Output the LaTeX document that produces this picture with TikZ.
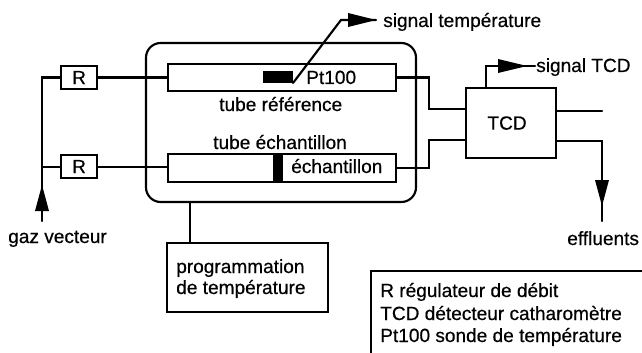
\documentclass[tikz,border=0pt]{standalone}
\usepackage{fontspec}
\setmainfont{Liberation Sans}[RawFeature={embolden=0.5}]
\tikzset{
  x=0.75pt,y=-0.75pt,
  wire/.style={line width=1.6pt,line cap=round,line join=miter},
  boxn/.style={draw,line width=1.6pt,inner sep=0pt,anchor=north west,rectangle},
  lab/.style={font=\fontsize{14.3pt}{16pt}\selectfont,inner sep=0pt,text=black},
  txt/.style={lab,anchor=base west},
  head/.style={fill=black,draw=none},
}
\begin{document}
\begin{tikzpicture}
\useasboundingbox (0,0) rectangle (642,353);
\fill[white] (0,0) rectangle (642,353);
% outer enclosure
\draw[wire,rounded corners=11pt] (146,43) rectangle (416,202);
% boxes
\node[boxn,minimum width=171pt,minimum height=20.25pt] (reft) at (167,63) {};
\node[boxn,minimum width=171pt,minimum height=21pt] (samt) at (167,153) {};
\node[boxn,minimum width=27pt,minimum height=17.25pt] (r1) at (60,65) {};
\node[boxn,minimum width=27pt,minimum height=17.25pt] (r2) at (60,154) {};
\node[boxn,minimum width=67.5pt,minimum height=52.5pt] (tcd) at (465,87) {};
\node[boxn,minimum width=120.75pt,minimum height=51.75pt] (prog) at (166,242) {};
% box labels
\node[lab] at (r1.center) {R};
\node[lab] at (r2.center) {R};
\node[lab] at ([xshift=-3pt]tcd.center) {TCD};
% black elements
\fill (263,71) rectangle (293,83);
\fill (273,153) rectangle (283,181);
\coordinate (sens) at (293,83);
\coordinate (sbend) at (341,20);
\coordinate (stip) at (376,20);
\draw[wire] (sens) -- (sbend) -- (stip);
\fill[head] (348,13) -- (376,20) -- (348,27) -- cycle;
% gas input
\coordinate (gtail) at (42,221);
\draw[wire] (gtail) -- (gtail |- r1.west) -- (r1.west);
\draw[wire] (gtail |- r2.west) -- (r2.west);
\fill[head] (35,211) -- (42,185) -- (49,211) -- cycle;
\draw[wire] (r1.east) -- (r1.east -| reft.west);
\draw[wire] (r2.east) -- (r2.east -| samt.west);
% to TCD
\coordinate (a) at (429,109);
\coordinate (b) at (429,140);
\draw[wire] (reft.east) -- (a |- reft.east) -- (a) -- (a -| tcd.west);
\draw[wire] (samt.east) -- (b |- samt.east) -- (b) -- (b -| tcd.west);
% TCD out
\coordinate (c1) at (602,111);
\draw[wire] (c1 -| tcd.east) -- (c1);
\coordinate (d1) at (602,141);
\coordinate (d2) at (602,221);
\draw[wire] (d1 -| tcd.east) -- (d1) -- (d2);
\fill[head] (595,180) -- (602,206) -- (609,180) -- cycle;
% signal TCD
\coordinate (e1) at (486,66);
\coordinate (e2) at (535,66);
\draw[wire] (e1 |- tcd.north) -- (e1) -- (e2);
\fill[head] (498,59) -- (527,66) -- (498,73) -- cycle;
% prog link
\coordinate (p0) at (190,202);
\draw[wire] (p0) -- (p0 |- prog.north);
% legend frame
\coordinate (l0) at (371,353);
\coordinate (l1) at (371,271);
\coordinate (l2) at (642,271);
\draw[wire] (l0) -- (l1) -- (l2);
% texts
\node[txt] (t1) at (383,27) {signal température};
\node[txt] (t2) at (536,72) {signal TCD};
\node[txt] (t3) at (306,84) {Pt100};
\node[txt] (t4) at (219,111) {tube référence};
\node[txt] (t5) at (213,149) {tube échantillon};
\node[txt] (t6) at (291,173) {échantillon};
\node[txt] (t7) at (8,243) {gaz vecteur};
\node[txt] (t8) at (567,245) {effluents};
\node[txt] (t9) at (176,273) {programmation};
\node[txt] (t10) at (176,294) {de température};
\node[txt] (t11) at (380,297) {R régulateur de débit};
\node[txt] (t12) at (380,320) {TCD détecteur catharomètre};
\node[txt] (t13) at (380,342) {Pt100 sonde de température};
\end{tikzpicture}
\end{document}
